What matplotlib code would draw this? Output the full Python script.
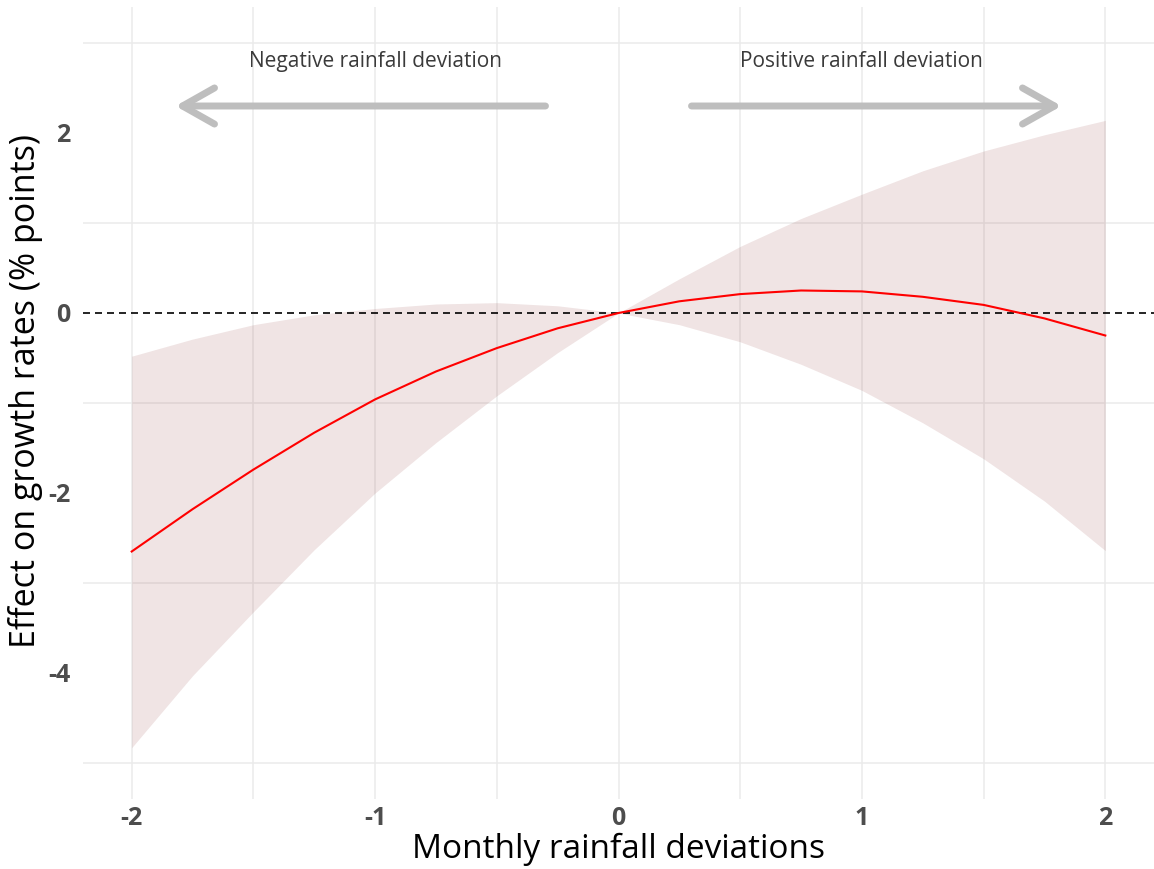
import numpy as np
import matplotlib
matplotlib.use("Agg")
import matplotlib.pyplot as plt

plt.rcParams['font.family'] = ['Open Sans', 'DejaVu Sans']

# values
rain_dev = [-2, -1.75, -1.5, -1.25, -1, -0.75, -0.5, -0.25, 0,
            0.25, 0.5, 0.75, 1, 1.25, 1.5, 1.75, 2]
effect = [-2.65, -2.18, -1.74, -1.33, -0.96, -0.65, -0.39, -0.17, 0,
          0.13, 0.21, 0.25, 0.24, 0.18, 0.09, -0.06, -0.25]
ci_upper = [-0.48, -0.29, -0.13, -0.02, 0.05, 0.10, 0.115, 0.08, 0,
            0.38, 0.74, 1.05, 1.32, 1.58, 1.80, 1.98, 2.14]
ci_lower = [-4.83, -4.03, -3.32, -2.63, -2.00, -1.44, -0.92, -0.44, 0,
            -0.13, -0.32, -0.57, -0.86, -1.22, -1.62, -2.09, -2.64]

x_ticks = [-2, -1, 0, 1, 2]
y_ticks = [-4, -2, 0, 2]

neg_label = "Negative rainfall deviation"
pos_label = "Positive rainfall deviation"

fig = plt.figure(figsize=(11.54, 8.69), dpi=100)
ax = fig.add_axes([83 / 1154, (869 - 799) / 869, 1071 / 1154, 792 / 869])

ax.fill_between(rain_dev, ci_lower, ci_upper, color=(155/255, 75/255, 75/255),
                alpha=0.15, lw=0, zorder=1)
ax.axhline(0, color='black', lw=1.2, ls=(0, (4.2, 3)), zorder=2)
ax.plot(rain_dev, effect, color='red', lw=1.5, zorder=3)

# direction arrows
arrow_kw = dict(arrowstyle='->,head_length=2.3,head_width=1.3', lw=5,
                color='#bebebe', capstyle='round', joinstyle='round',
                mutation_scale=10, shrinkA=0, shrinkB=0)
ax.annotate('', xy=(-1.82, 2.3), xytext=(-0.3, 2.3), arrowprops=arrow_kw, zorder=4)
ax.annotate('', xy=(1.82, 2.3), xytext=(0.3, 2.3), arrowprops=arrow_kw, zorder=4)
ax.text(-1, 2.79, neg_label, ha='center', va='center', fontsize=15, color='#3a3a3a')
ax.text(1, 2.79, pos_label, ha='center', va='center', fontsize=15, color='#3a3a3a')

ax.set_xlim(-2.2, 2.2)
ax.set_ylim(-5.40, 3.40)
ax.set_xticks(x_ticks)
ax.set_xticks([-1.5, -0.5, 0.5, 1.5], minor=True)
ax.set_yticks(y_ticks)
ax.set_yticks([-5, -3, -1, 1, 3], minor=True)
ax.set_xticklabels([str(v) for v in x_ticks])
ax.set_yticklabels([str(v) for v in y_ticks])

ax.grid(True, axis='x', which='both', color='#ebebeb', lw=1.1)
ax.grid(True, axis='y', which='minor', color='#ebebeb', lw=1.1)
ax.set_axisbelow(True)
for s in ax.spines.values():
    s.set_visible(False)
ax.tick_params(which='both', length=0)
ax.tick_params(axis='x', pad=5)
ax.tick_params(axis='y', pad=9)
for lab in ax.get_xticklabels() + ax.get_yticklabels():
    lab.set_fontweight('bold')
    lab.set_fontsize(18)
    lab.set_color('#4d4d4d')

ax.set_xlabel("Monthly rainfall deviations", fontsize=24, labelpad=1)
ax.set_ylabel("Effect on growth rates (% points)", fontsize=24.5)
ax.yaxis.set_label_coords(-40 / 1071, (799 - 391) / 792)

fig.savefig("out.png", dpi=100)
